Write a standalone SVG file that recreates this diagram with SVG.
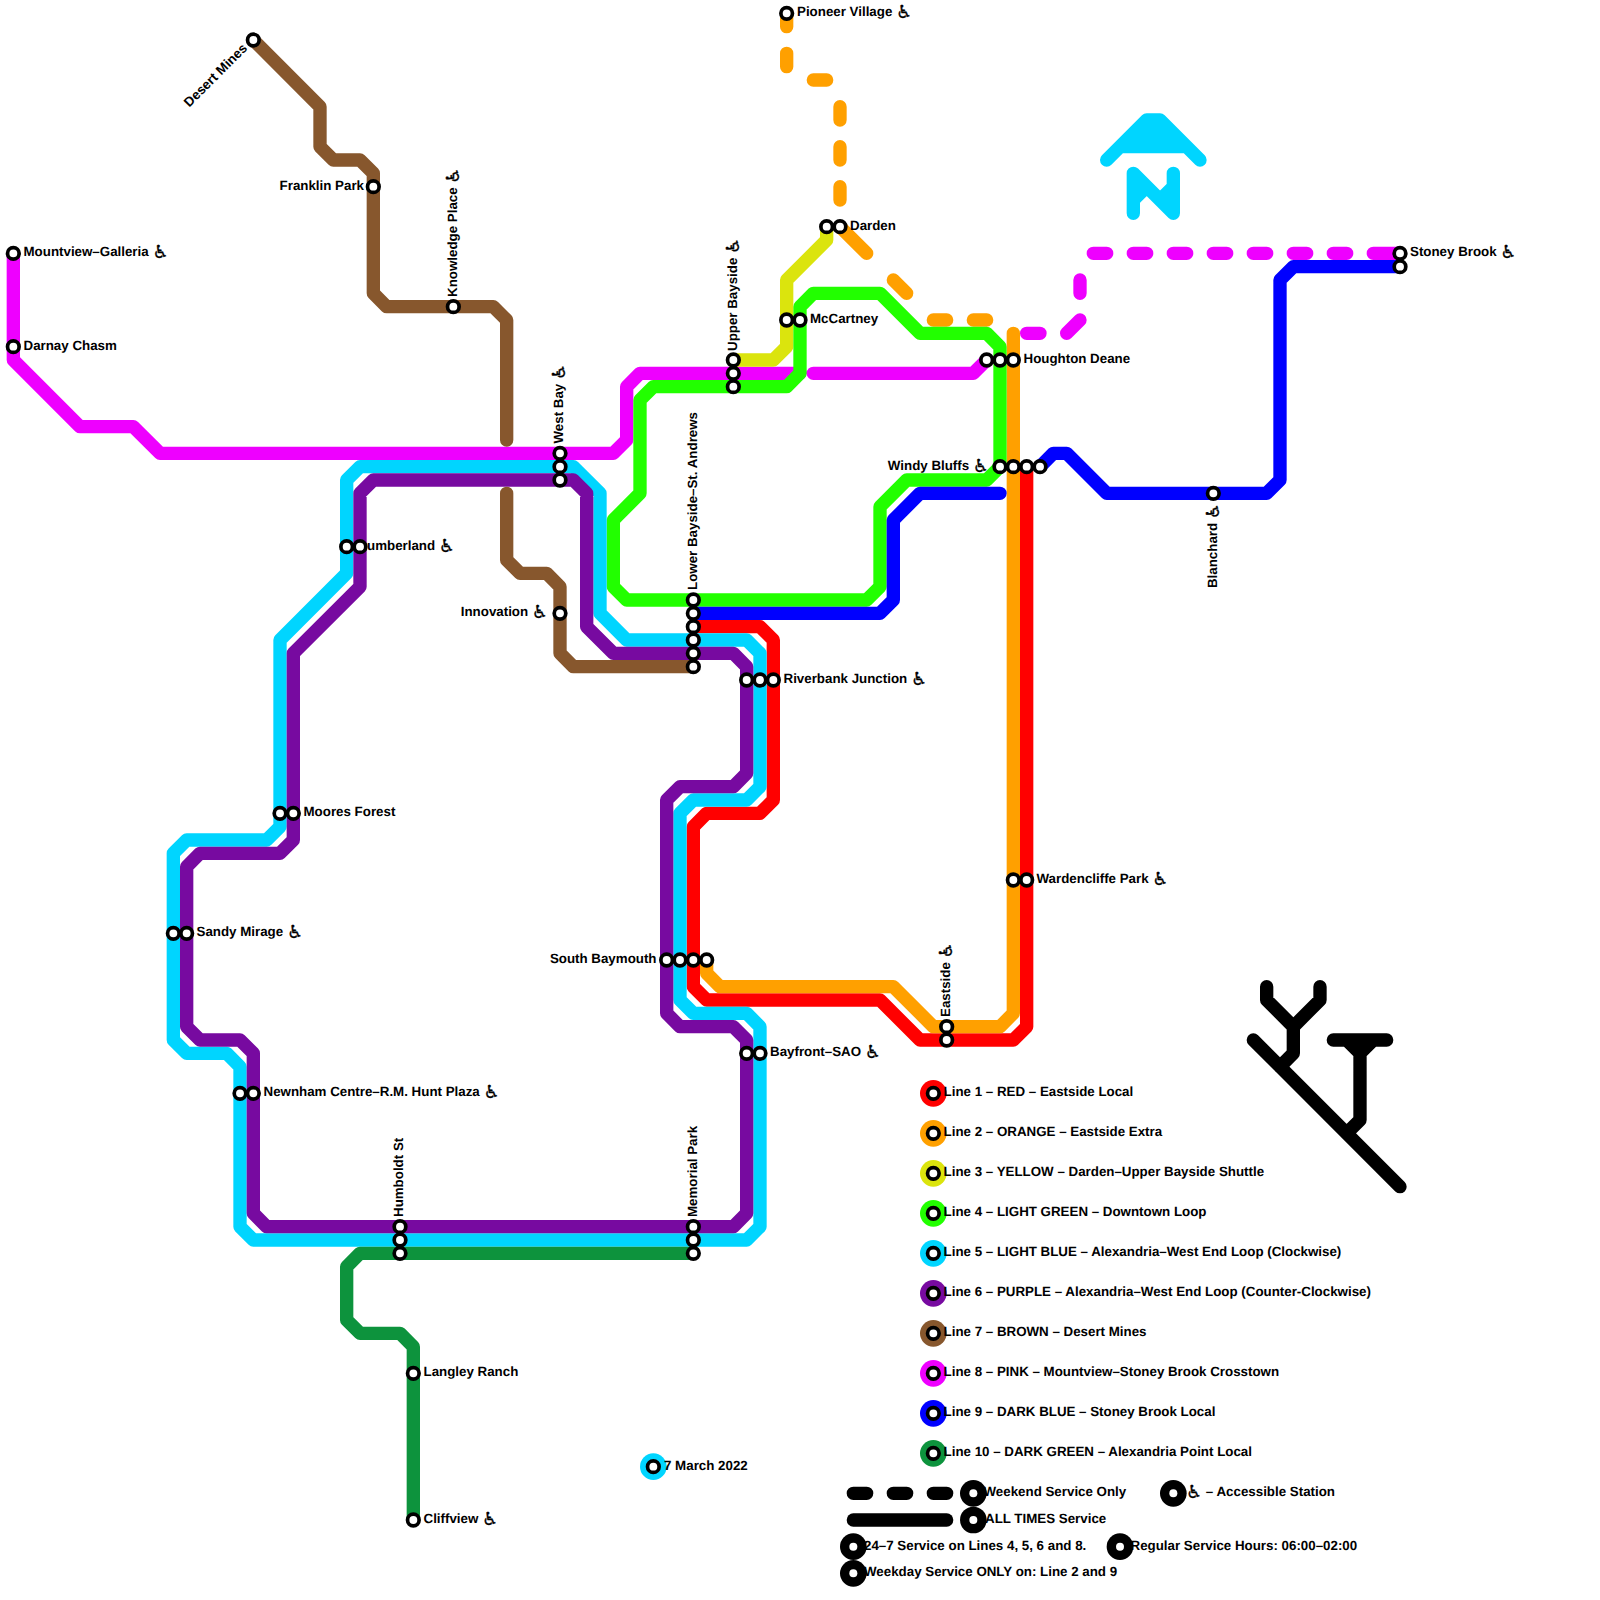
<svg xmlns="http://www.w3.org/2000/svg" width="1600" height="1600" viewBox="0 0 1600 1600">
<defs><style>
.l{fill:none;stroke-width:1;stroke-linecap:round;stroke-linejoin:round}
.s{fill:#fff;stroke:#000;stroke-width:3.7}
.b{fill:#000}
.h{fill:#fff}
text{font-family:"Liberation Sans","DejaVu Sans",sans-serif;font-weight:700;font-size:13.33px;fill:#000;text-rendering:geometricPrecision}
.e{text-anchor:end}
.w{font-family:"DejaVu Sans",sans-serif;font-size:18px;baseline-shift:-2px;stroke:#000;stroke-width:.3px}
</style></defs>
<rect width="1600" height="1600" fill="#fff"/>
<g id="connectors" transform="scale(13.33333)">
<path id="line8" class="l" stroke="#ee00ff" d="M1 19V27L6 32H10L12 34H46L47 33V29L48 28H60M61 28H73L74 27M77 25H78M80 25L81 24M81 21V22M82 19H83M85 19H86M88 19H89M91 19H92M94 19H95M97 19H98M100 19H101M103 19H105"/>
<path id="line1" class="l" stroke="#ff0000" d="M52 47H57L58 48V60L57 61H53L52 62V74L53 75H66L69 78H76L77 77V35"/>
<path id="line2" class="l" stroke="#ffa000" d="M53 72V73L54 74H67L70 77H75L76 76V25M59 1V2M59 4V5M61 6H62M63 8V9M63 11V12M63 14V15M63 17L65 19M67 21L68 22M70 24H71M73 24H74"/>
<path id="line3" class="l" stroke="#dbe40d" d="M55 27H58L59 26V21L62 18V17"/>
<path id="line4" class="l" stroke="#22ff00" d="M60 23L61 22H66L69 25H74L75 26V35L74 36H68L66 38V44L65 45H47L46 44V39L48 37V30L49 29H59L60 28Z"/>
<path id="line5" class="l" stroke="#00d5ff" d="M43 35L45 37V46L47 48H56L57 49V59L56 60H52L51 61V75L52 76H56L57 77V92L56 93H19L18 92V80L17 79H14L13 78V64L14 63H20L21 62V48L26 43V36L27 35Z"/>
<path id="line6" class="l" stroke="#770aa0" d="M43 36L44 37V47L46 49H55L56 50V58L55 59H51L50 60V76L51 77H55L56 78V91L55 92H20L19 91V79L18 78H15L14 77V65L15 64H21L22 63V49L27 44V37L28 36Z"/>
<path id="line7" class="l" stroke="#87572d" d="M19 3L24 8V11L25 12H27L28 13V22L29 23H37L38 24V33M38 37V42L39 43H41L42 44V49L43 50H52"/>
<path id="line9" class="l" stroke="#0000ff" d="M75 37H69L67 39V45L66 46H52M78 35L79 34H80L83 37H95L96 36V21L97 20H105"/>
<path id="line10" class="l" stroke="#0d933d" d="M52 94H27L26 95V99L27 100H30L31 101V114"/>
<path id="north" class="l" stroke="#00d5ff" d="M83 12L86 9H87L90 12M85 11H88M85 10H88M84 11H89M85 16V13L88 16V13M85 15L86 14M88 14L87 15"/>
<path id="logo" class="l" stroke="#000" d="M94 78L105 89M95 74V75L97 77L99 75V74M97 77V79L96 80M100 78H104M101 78L102 79L103 78M102 79V84L101 85"/>
<path id="legend-dash" class="l" stroke="#000" d="M64 112H65M67 112H68M70 112H71"/>
<path id="legend-solid" class="l" stroke="#000" d="M64 114H71"/>
</g>
<g id="n-mountview"><text x="23.5" y="256.2">Mountview–Galleria  <tspan class="w">♿</tspan></text><circle class="s" cx="13.33" cy="253.33" r="5.8"/></g>
<g id="n-darnay"><text x="23.5" y="349.5">Darnay Chasm</text><circle class="s" cx="13.33" cy="346.67" r="5.8"/></g>
<g id="n-desert"><text class="e" transform="translate(248,49) rotate(-45)">Desert Mines</text><circle class="s" cx="253.33" cy="40" r="5.8"/></g>
<g id="n-franklin"><text class="e" x="364" y="189.5">Franklin Park</text><circle class="s" cx="373.33" cy="186.67" r="5.8"/></g>
<g id="n-knowledge"><text transform="translate(456.5,297) rotate(-90)">Knowledge Place  <tspan class="w">♿</tspan></text><circle class="s" cx="453.33" cy="306.67" r="5.8"/></g>
<g id="n-westbay"><text transform="translate(563.2,443.5) rotate(-90)">West Bay  <tspan class="w">♿</tspan></text><circle class="s" cx="560" cy="453.33" r="5.8"/><circle class="s" cx="560" cy="466.67" r="5.8"/><circle class="s" cx="560" cy="480" r="5.8"/></g>
<g id="n-innovation"><text class="e" x="548" y="616.2">Innovation  <tspan class="w">♿</tspan></text><circle class="s" cx="560" cy="613.33" r="5.8"/></g>
<g id="n-upperbayside"><text transform="translate(736.5,351) rotate(-90)">Upper Bayside  <tspan class="w">♿</tspan></text><circle class="s" cx="733.33" cy="360" r="5.8"/><circle class="s" cx="733.33" cy="373.33" r="5.8"/><circle class="s" cx="733.33" cy="386.67" r="5.8"/></g>
<g id="n-pioneer"><text x="797" y="16.2">Pioneer Village  <tspan class="w">♿</tspan></text><circle class="s" cx="786.67" cy="13.33" r="5.8"/></g>
<g id="n-darden"><text x="850" y="229.5">Darden</text><circle class="s" cx="826.67" cy="226.67" r="5.8"/><circle class="s" cx="840" cy="226.67" r="5.8"/></g>
<g id="n-mccartney"><text x="810" y="322.9">McCartney</text><circle class="s" cx="786.67" cy="320" r="5.8"/><circle class="s" cx="800" cy="320" r="5.8"/></g>
<g id="n-houghton"><text x="1023.5" y="362.9">Houghton Deane</text><circle class="s" cx="986.67" cy="360" r="5.8"/><circle class="s" cx="1000" cy="360" r="5.8"/><circle class="s" cx="1013.33" cy="360" r="5.8"/></g>
<g id="n-windy"><text class="e" x="989" y="469.5">Windy Bluffs  <tspan class="w">♿</tspan></text><circle class="s" cx="1000" cy="466.67" r="5.8"/><circle class="s" cx="1013.33" cy="466.67" r="5.8"/><circle class="s" cx="1026.67" cy="466.67" r="5.8"/><circle class="s" cx="1040" cy="466.67" r="5.8"/></g>
<g id="n-wardencliffe"><text x="1036.5" y="882.9">Wardencliffe Park  <tspan class="w">♿</tspan></text><circle class="s" cx="1013.33" cy="880" r="5.8"/><circle class="s" cx="1026.67" cy="880" r="5.8"/></g>
<g id="n-blanchard"><text class="e" transform="translate(1216.5,503) rotate(-90)">Blanchard  <tspan class="w">♿</tspan></text><circle class="s" cx="1213.33" cy="493.33" r="5.8"/></g>
<g id="n-stoney"><text x="1410" y="256.2">Stoney Brook  <tspan class="w">♿</tspan></text><circle class="s" cx="1400" cy="253.33" r="5.8"/><circle class="s" cx="1400" cy="266.67" r="5.8"/></g>
<g id="n-cumberland"><text x="367" y="549.5">umberland  <tspan class="w">♿</tspan></text><circle class="s" cx="346.67" cy="546.67" r="5.8"/><circle class="s" cx="360" cy="546.67" r="5.8"/></g>
<g id="n-moores"><text x="303.5" y="816.2">Moores Forest</text><circle class="s" cx="280" cy="813.33" r="5.8"/><circle class="s" cx="293.33" cy="813.33" r="5.8"/></g>
<g id="n-sandy"><text x="196.5" y="936.2">Sandy Mirage  <tspan class="w">♿</tspan></text><circle class="s" cx="173.33" cy="933.33" r="5.8"/><circle class="s" cx="186.67" cy="933.33" r="5.8"/></g>
<g id="n-newnham"><text x="263.5" y="1096.2">Newnham Centre–R.M. Hunt Plaza  <tspan class="w">♿</tspan></text><circle class="s" cx="240" cy="1093.33" r="5.8"/><circle class="s" cx="253.33" cy="1093.33" r="5.8"/></g>
<g id="n-humboldt"><text transform="translate(403.2,1217) rotate(-90)">Humboldt St</text><circle class="s" cx="400" cy="1226.67" r="5.8"/><circle class="s" cx="400" cy="1240" r="5.8"/><circle class="s" cx="400" cy="1253.33" r="5.8"/></g>
<g id="n-memorial"><text transform="translate(696.5,1217) rotate(-90)">Memorial Park</text><circle class="s" cx="693.33" cy="1226.67" r="5.8"/><circle class="s" cx="693.33" cy="1240" r="5.8"/><circle class="s" cx="693.33" cy="1253.33" r="5.8"/></g>
<g id="n-lowerbayside"><text transform="translate(696.5,590) rotate(-90)">Lower Bayside–St. Andrews</text><circle class="s" cx="693.33" cy="600" r="5.8"/><circle class="s" cx="693.33" cy="613.33" r="5.8"/><circle class="s" cx="693.33" cy="626.67" r="5.8"/><circle class="s" cx="693.33" cy="640" r="5.8"/><circle class="s" cx="693.33" cy="653.33" r="5.8"/><circle class="s" cx="693.33" cy="666.67" r="5.8"/></g>
<g id="n-riverbank"><text x="783.5" y="682.9">Riverbank Junction  <tspan class="w">♿</tspan></text><circle class="s" cx="746.67" cy="680" r="5.8"/><circle class="s" cx="760" cy="680" r="5.8"/><circle class="s" cx="773.33" cy="680" r="5.8"/></g>
<g id="n-southbaymouth"><text class="e" x="656.5" y="962.9">South Baymouth</text><circle class="s" cx="666.67" cy="960" r="5.8"/><circle class="s" cx="680" cy="960" r="5.8"/><circle class="s" cx="693.33" cy="960" r="5.8"/><circle class="s" cx="706.67" cy="960" r="5.8"/></g>
<g id="n-bayfront"><text x="770" y="1056.2">Bayfront–SAO  <tspan class="w">♿</tspan></text><circle class="s" cx="746.67" cy="1053.33" r="5.8"/><circle class="s" cx="760" cy="1053.33" r="5.8"/></g>
<g id="n-eastside"><text transform="translate(949.9,1017) rotate(-90)">Eastside  <tspan class="w">♿</tspan></text><circle class="s" cx="946.67" cy="1026.67" r="5.8"/><circle class="s" cx="946.67" cy="1040" r="5.8"/></g>
<g id="n-langley"><text x="423.5" y="1376.2">Langley Ranch</text><circle class="s" cx="413.33" cy="1373.33" r="5.8"/></g>
<g id="n-cliffview"><text x="423.5" y="1522.9">Cliffview  <tspan class="w">♿</tspan></text><circle class="s" cx="413.33" cy="1520" r="5.8"/></g>
<g id="legend-1"><circle fill="#ff0000" cx="933.33" cy="1093.33" r="13.33"/><circle class="s" cx="933.33" cy="1093.33" r="5.8"/><text x="943.6" y="1096.2">Line 1 – RED – Eastside Local</text></g>
<g id="legend-2"><circle fill="#ffa000" cx="933.33" cy="1133.33" r="13.33"/><circle class="s" cx="933.33" cy="1133.33" r="5.8"/><text x="943.6" y="1136.2">Line 2 – ORANGE – Eastside Extra</text></g>
<g id="legend-3"><circle fill="#dbe40d" cx="933.33" cy="1173.33" r="13.33"/><circle class="s" cx="933.33" cy="1173.33" r="5.8"/><text x="943.6" y="1176.2">Line 3 – YELLOW – Darden–Upper Bayside Shuttle</text></g>
<g id="legend-4"><circle fill="#22ff00" cx="933.33" cy="1213.33" r="13.33"/><circle class="s" cx="933.33" cy="1213.33" r="5.8"/><text x="943.6" y="1216.2">Line 4 – LIGHT GREEN – Downtown Loop</text></g>
<g id="legend-5"><circle fill="#00d5ff" cx="933.33" cy="1253.33" r="13.33"/><circle class="s" cx="933.33" cy="1253.33" r="5.8"/><text x="943.6" y="1256.2">Line 5 – LIGHT BLUE – Alexandria–West End Loop (Clockwise)</text></g>
<g id="legend-6"><circle fill="#770aa0" cx="933.33" cy="1293.33" r="13.33"/><circle class="s" cx="933.33" cy="1293.33" r="5.8"/><text x="943.6" y="1296.2">Line 6 – PURPLE – Alexandria–West End Loop (Counter-Clockwise)</text></g>
<g id="legend-7"><circle fill="#87572d" cx="933.33" cy="1333.33" r="13.33"/><circle class="s" cx="933.33" cy="1333.33" r="5.8"/><text x="943.6" y="1336.2">Line 7 – BROWN – Desert Mines</text></g>
<g id="legend-8"><circle fill="#ee00ff" cx="933.33" cy="1373.33" r="13.33"/><circle class="s" cx="933.33" cy="1373.33" r="5.8"/><text x="943.6" y="1376.2">Line 8 – PINK – Mountview–Stoney Brook Crosstown</text></g>
<g id="legend-9"><circle fill="#0000ff" cx="933.33" cy="1413.33" r="13.33"/><circle class="s" cx="933.33" cy="1413.33" r="5.8"/><text x="943.6" y="1416.2">Line 9 – DARK BLUE – Stoney Brook Local</text></g>
<g id="legend-10"><circle fill="#0d933d" cx="933.33" cy="1453.33" r="13.33"/><circle class="s" cx="933.33" cy="1453.33" r="5.8"/><text x="943.6" y="1456.2">Line 10 – DARK GREEN – Alexandria Point Local</text></g>
<g id="date"><circle fill="#00d5ff" cx="653.33" cy="1466.67" r="13.33"/><circle class="s" cx="653.33" cy="1466.67" r="5.8"/><text x="664" y="1469.5">7 March 2022</text></g>
<g id="legend-weekend"><text x="983.5" y="1496.2">Weekend Service Only</text><circle class="b" cx="973.33" cy="1493.33" r="13.33"/><circle class="h" cx="973.33" cy="1493.33" r="4"/></g>
<g id="legend-alltimes"><text x="985" y="1522.9">ALL TIMES Service</text><circle class="b" cx="973.33" cy="1520" r="13.33"/><circle class="h" cx="973.33" cy="1520" r="4"/></g>
<g id="legend-accessible"><text x="1186" y="1496.2"><tspan class="w">♿</tspan> – Accessible Station</text><circle class="b" cx="1173.33" cy="1493.33" r="13.33"/><circle class="h" cx="1173.33" cy="1493.33" r="4"/></g>
<g id="legend-247"><text x="864" y="1549.5">24–7 Service on Lines 4, 5, 6 and 8.</text><circle class="b" cx="853.33" cy="1546.67" r="13.33"/><circle class="h" cx="853.33" cy="1546.67" r="4"/></g>
<g id="legend-weekday"><text x="864" y="1576.2">Weekday Service ONLY on: Line 2 and 9</text><circle class="b" cx="853.33" cy="1573.33" r="13.33"/><circle class="h" cx="853.33" cy="1573.33" r="4"/></g>
<g id="legend-hours"><text x="1130.5" y="1549.5">Regular Service Hours: 06:00–02:00</text><circle class="b" cx="1120" cy="1546.67" r="13.33"/><circle class="h" cx="1120" cy="1546.67" r="4"/></g>
</svg>
